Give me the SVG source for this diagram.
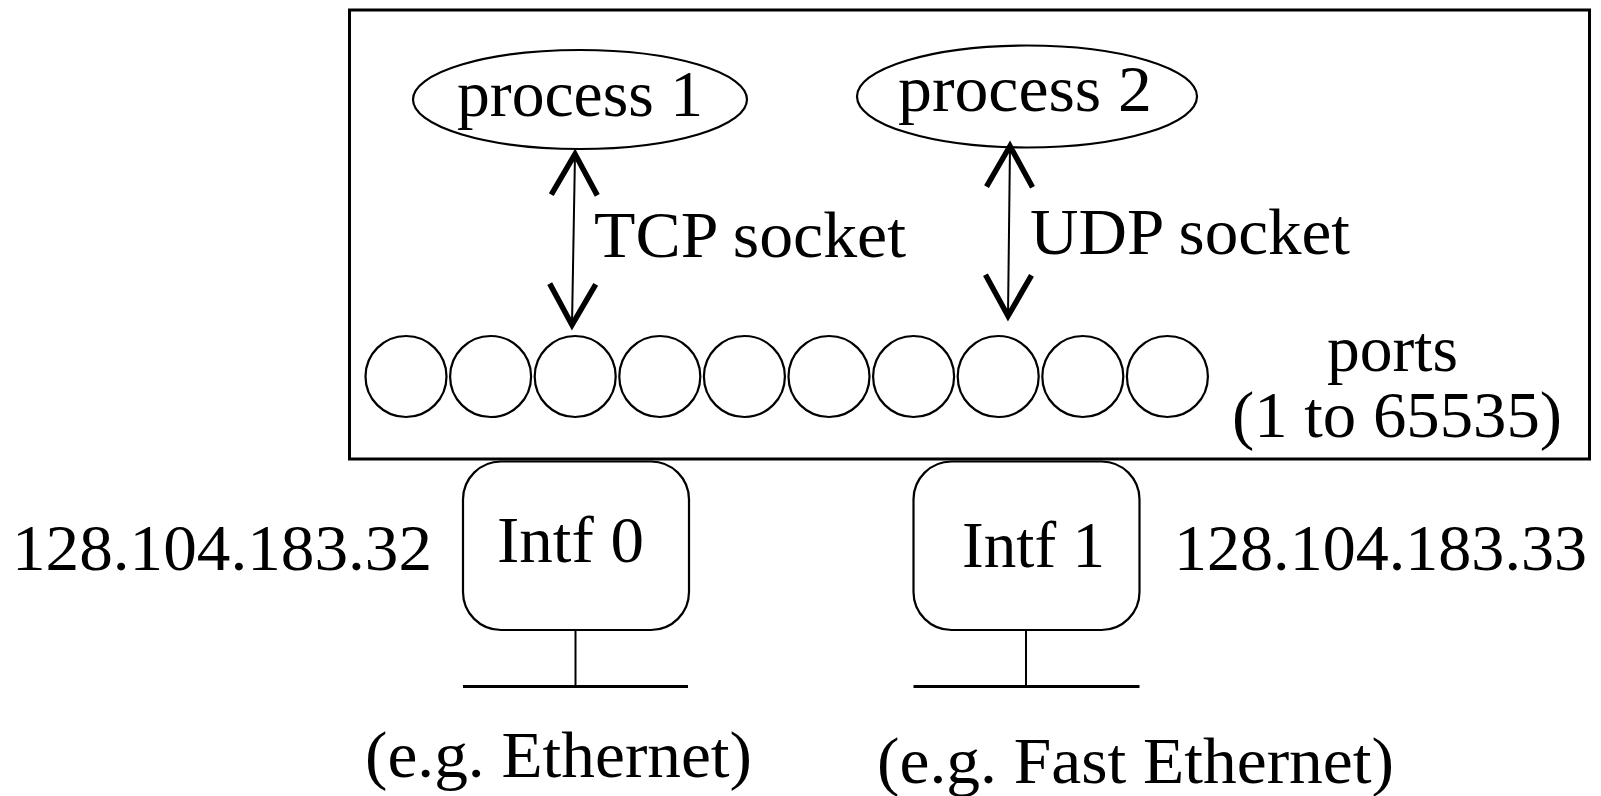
<svg xmlns="http://www.w3.org/2000/svg" width="1601" height="796" viewBox="0 0 1601 796">
<style>
  text { font-family: "Liberation Serif", "Times New Roman", serif; font-size: 66px; fill: #000; }
  .frame { fill: none; stroke: #000; stroke-width: 3; }
  .proc { fill: #fff; stroke: #000; stroke-width: 2.2; }
  .port { fill: #fff; stroke: #000; stroke-width: 2.2; }
  .intf { fill: #fff; stroke: #000; stroke-width: 2.2; }
  .wire { fill: none; stroke: #000; stroke-width: 2; }
  .bus { fill: none; stroke: #000; stroke-width: 3; }
  .sock { fill: none; stroke: #000; stroke-width: 2; marker-start: url(#vee); marker-end: url(#vee); }
</style>
<defs>
  <marker id="vee" markerUnits="userSpaceOnUse" viewBox="-50 -30 60 60" refX="0" refY="0" markerWidth="60" markerHeight="60" orient="auto-start-reverse" overflow="visible">
    <path d="M-41,-23 L0,0 L-41,23" fill="none" stroke="#000" stroke-width="5.5" stroke-linejoin="miter"/>
  </marker>
</defs>
<rect fill="#fff" x="0" y="0" width="1601" height="796"/>

<g id="host">
  <rect class="frame" x="349.5" y="10" width="1240" height="449"/>
</g>

<g id="process1">
  <ellipse class="proc" cx="580" cy="99.5" rx="167" ry="49.5"/>
  <text x="457" y="116" font-size="64" textLength="246" lengthAdjust="spacingAndGlyphs">process 1</text>
</g>

<g id="process2">
  <ellipse class="proc" cx="1027" cy="96.5" rx="170" ry="51"/>
  <text x="898" y="111" font-size="64" textLength="254" lengthAdjust="spacingAndGlyphs">process 2</text>
</g>

<g id="ports">
  <circle class="port" cx="406" cy="376.5" r="40.5"/>
  <circle class="port" cx="490.6" cy="376.5" r="40.5"/>
  <circle class="port" cx="575.2" cy="376.5" r="40.5"/>
  <circle class="port" cx="659.8" cy="376.5" r="40.5"/>
  <circle class="port" cx="744.4" cy="376.5" r="40.5"/>
  <circle class="port" cx="829" cy="376.5" r="40.5"/>
  <circle class="port" cx="913.6" cy="376.5" r="40.5"/>
  <circle class="port" cx="998.2" cy="376.5" r="40.5"/>
  <circle class="port" cx="1082.8" cy="376.5" r="40.5"/>
  <circle class="port" cx="1167.4" cy="376.5" r="40.5"/>
  <text x="1327" y="371" textLength="131" lengthAdjust="spacingAndGlyphs">ports</text>
  <text x="1232" y="437" textLength="330" lengthAdjust="spacingAndGlyphs">(1 to 65535)</text>
</g>

<g id="intf0">
  <rect class="intf" x="463" y="461.5" width="226" height="168.5" rx="38" ry="38"/>
  <text x="497" y="562" textLength="147" lengthAdjust="spacingAndGlyphs">Intf 0</text>
  <text x="12" y="570" textLength="420" lengthAdjust="spacingAndGlyphs">128.104.183.32</text>
  <text x="365" y="777" textLength="387" lengthAdjust="spacingAndGlyphs">(e.g. Ethernet)</text>
</g>

<g id="intf1">
  <rect class="intf" x="913.5" y="461.5" width="226" height="168.5" rx="38" ry="38"/>
  <text x="962" y="567" textLength="143" lengthAdjust="spacingAndGlyphs">Intf 1</text>
  <text x="1174" y="570" textLength="413" lengthAdjust="spacingAndGlyphs">128.104.183.33</text>
  <text x="877" y="783" textLength="517" lengthAdjust="spacingAndGlyphs">(e.g. Fast Ethernet)</text>
</g>

<g id="connectors">
  <line class="sock" x1="575" y1="154" x2="572" y2="325"/>
  <text x="594" y="257" textLength="312" lengthAdjust="spacingAndGlyphs">TCP socket</text>
  <line class="sock" x1="1010" y1="146" x2="1008" y2="316"/>
  <text x="1030" y="254" textLength="320" lengthAdjust="spacingAndGlyphs">UDP socket</text>
  <line class="wire" x1="575.5" y1="630" x2="575.5" y2="686.5"/>
  <line class="bus" x1="463" y1="686.5" x2="688" y2="686.5"/>
  <line class="wire" x1="1026" y1="630" x2="1026" y2="686.5"/>
  <line class="bus" x1="913.5" y1="686.5" x2="1139.5" y2="686.5"/>
</g>
</svg>
